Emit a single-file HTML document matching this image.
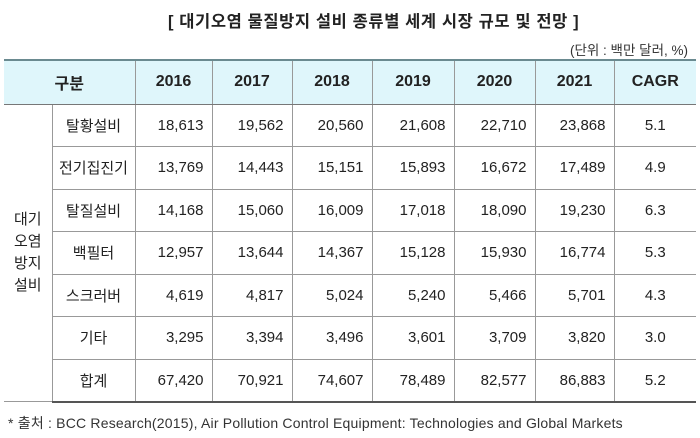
<!DOCTYPE html><html><head><meta charset="utf-8"><style>
body{margin:0;width:700px;height:438px;background:#fff;font-family:"Liberation Sans","Noto Sans CJK KR",sans-serif;color:#222;position:relative;overflow:hidden}
.t{position:absolute;top:8px;left:168px;font-size:16.5px;font-weight:bold;letter-spacing:0.6px;white-space:nowrap}
.u{position:absolute;top:39px;right:12px;font-size:13.5px;color:#333}
table{position:absolute;left:4px;top:59px;border-collapse:collapse;width:692px;font-size:15px}
td{border:1px solid #999;height:42.5px;padding:0 8px;text-align:right;box-sizing:border-box;white-space:nowrap}
td.l{text-align:center;padding:0 2px}
tr.h td{background:#dff6fb;font-weight:bold;text-align:center;font-size:16px;height:44px;border-top:2px solid #6a8a90;border-bottom:1px solid #777}
td.g{text-align:center;border-left:none;line-height:22px;padding:0}
tr:last-child td{border-bottom:2px solid #555}
tr.h td:first-child{border-left:none}
td:last-child{border-right:none;text-align:center}
.f{position:absolute;top:413px;left:8px;font-size:14px;color:#333;white-space:nowrap;letter-spacing:0.2px}
</style></head><body>
<div class="t">[ 대기오염 물질방지 설비 종류별 세계 시장 규모 및 전망 ]</div>
<div class="u">(단위 : 백만 달러, %)</div>
<table>
<colgroup><col style="width:48px"><col style="width:83px"><col style="width:77px"><col style="width:80px"><col style="width:80px"><col style="width:82px"><col style="width:81px"><col style="width:79px"><col style="width:82px"></colgroup>
<tr class="h"><td colspan="2">구분</td><td>2016</td><td>2017</td><td>2018</td><td>2019</td><td>2020</td><td>2021</td><td>CAGR</td></tr>
<tr><td class="g" rowspan="7">대기<br>오염<br>방지<br>설비</td><td class="l">탈황설비</td><td>18,613</td><td>19,562</td><td>20,560</td><td>21,608</td><td>22,710</td><td>23,868</td><td>5.1</td></tr>
<tr><td class="l">전기집진기</td><td>13,769</td><td>14,443</td><td>15,151</td><td>15,893</td><td>16,672</td><td>17,489</td><td>4.9</td></tr>
<tr><td class="l">탈질설비</td><td>14,168</td><td>15,060</td><td>16,009</td><td>17,018</td><td>18,090</td><td>19,230</td><td>6.3</td></tr>
<tr><td class="l">백필터</td><td>12,957</td><td>13,644</td><td>14,367</td><td>15,128</td><td>15,930</td><td>16,774</td><td>5.3</td></tr>
<tr><td class="l">스크러버</td><td>4,619</td><td>4,817</td><td>5,024</td><td>5,240</td><td>5,466</td><td>5,701</td><td>4.3</td></tr>
<tr><td class="l">기타</td><td>3,295</td><td>3,394</td><td>3,496</td><td>3,601</td><td>3,709</td><td>3,820</td><td>3.0</td></tr>
<tr><td class="l">합계</td><td>67,420</td><td>70,921</td><td>74,607</td><td>78,489</td><td>82,577</td><td>86,883</td><td>5.2</td></tr>
</table>
<div class="f">* 출처 : BCC Research(2015), Air Pollution Control Equipment: Technologies and Global Markets</div>
</body></html>
